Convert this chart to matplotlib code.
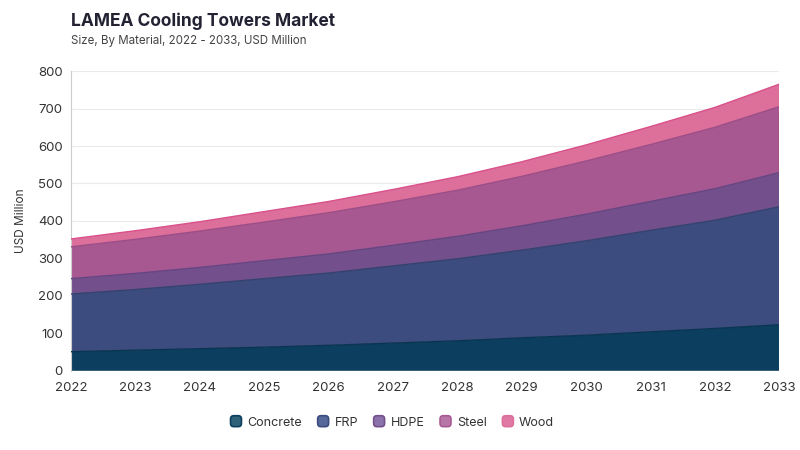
import matplotlib
matplotlib.use("Agg")
import matplotlib.pyplot as plt
from matplotlib.patches import FancyBboxPatch
from matplotlib.legend_handler import HandlerBase

plt.rcParams['font.family'] = ['Inter', 'DejaVu Sans']

years = [2022, 2023, 2024, 2025, 2026, 2027, 2028, 2029, 2030, 2031, 2032, 2033]
materials = ['Concrete', 'FRP', 'HDPE', 'Steel', 'Wood']

concrete = [51, 55, 59, 63, 68, 74, 80, 88, 95, 104, 113, 123]
frp = [154, 162, 172, 183, 193, 206, 219, 234, 252, 271, 289, 315]
hdpe = [41, 43, 45, 48, 51, 55, 60, 65, 71, 77, 84, 91]
steel = [85, 91, 97, 103, 110, 116, 123, 132, 142, 152, 164, 176]
wood = [21, 23, 25, 28, 30, 33, 36, 39, 43, 48, 53, 60]

series = [concrete, frp, hdpe, steel, wood]
fill_colors = ['#0c3e5f', '#3d4c7e', '#73508c', '#a85891', '#dc709b']
line_colors = ['#0a3552', '#34426f', '#654581', '#9c4d86', '#d9508a']
legend_fill = ['#2f6178', '#56699a', '#8b72aa', '#b775a8', '#e07aa4']


class RoundBoxHandler(HandlerBase):
    def create_artists(self, legend, orig_handle, xdescent, ydescent,
                       width, height, fontsize, trans):
        s = height * 1.25
        x0 = -xdescent + (width - s) / 2
        y0 = -ydescent + (height - s) / 2
        p = FancyBboxPatch((x0, y0), s, s,
                           boxstyle="round,pad=0,rounding_size=%f" % (s * 0.3),
                           facecolor=orig_handle.get_facecolor(),
                           edgecolor=orig_handle.get_edgecolor(),
                           linewidth=1.2, transform=trans)
        return [p]


fig = plt.figure(figsize=(8, 4.5), dpi=100)
ax = fig.add_axes([0.089, 0.176, 0.885, 0.666])

base = [0] * len(years)
for vals, fc, lc in zip(series, fill_colors, line_colors):
    top = [b + v for b, v in zip(base, vals)]
    ax.fill_between(years, base, top, facecolor=fc, edgecolor='none', zorder=2)
    ax.plot(years, top, color=lc, linewidth=1.0, zorder=3)
    base = top

ax.set_xlim(2022, 2033)
ax.set_ylim(0, 800)
ax.set_xticks(years)
ax.set_yticks(range(0, 801, 100))
ax.grid(axis='y', color='#ebebeb', linewidth=0.8, zorder=0)
ax.grid(axis='x', visible=False)
for s in ['top', 'right', 'bottom']:
    ax.spines[s].set_visible(False)
ax.spines['left'].set_color('#cccccc')
ax.spines['left'].set_linewidth(0.8)
ax.tick_params(axis='both', length=0, labelsize=9.5, labelcolor='#333333')
ax.tick_params(axis='x', pad=8)
ax.tick_params(axis='y', pad=6)
ax.set_ylabel('USD Million', fontsize=8.5, color='#333333', labelpad=8)

fig.text(0.089, 0.952, 'LAMEA Cooling Towers Market', fontsize=12.5,
         fontweight='bold', color='#222233', va='center')
fig.text(0.089, 0.909, 'Size, By Material, 2022 - 2033, USD Million',
         fontsize=8.3, color='#444444', va='center')

handles = [FancyBboxPatch((0, 0), 1, 1, facecolor=f, edgecolor=e)
           for f, e in zip(legend_fill, fill_colors)]
leg = fig.legend(handles, materials, loc='center', bbox_to_anchor=(0.49, 0.061),
                 ncol=5, frameon=False, fontsize=9, handlelength=1.0,
                 handletextpad=0.4, columnspacing=1.2,
                 handler_map={FancyBboxPatch: RoundBoxHandler()})
for t in leg.get_texts():
    t.set_color('#333333')

fig.savefig('out.png', dpi=100)
